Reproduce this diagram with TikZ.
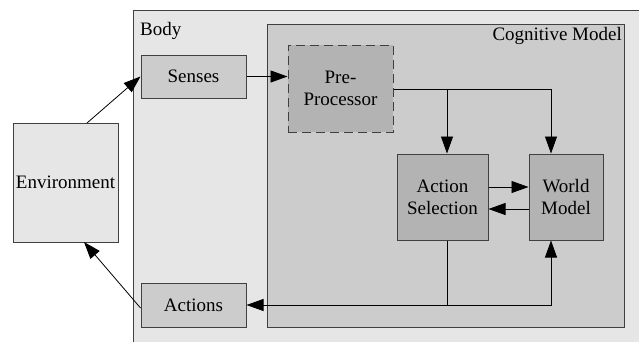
\documentclass[tikz,border=0pt]{standalone}
\usepackage{fontspec}
\setmainfont{Liberation Serif}
\usetikzlibrary{arrows.meta}
\definecolor{bodyfill}{HTML}{E6E6E6}
\definecolor{cogfill}{HTML}{CCCCCC}
\definecolor{darkfill}{HTML}{B3B3B3}
\definecolor{edge}{HTML}{404040}
\tikzset{
  box/.style={draw=edge, line width=1pt, fill=cogfill, inner sep=0pt, align=center,
    font=\rmfamily\fontsize{19}{22}\selectfont},
  conn/.style={draw=black, line width=0.8pt, -{Triangle[length=17pt,width=12pt]}},
  plain/.style={draw=black, line width=0.8pt}
}
\begin{document}
\begin{tikzpicture}[x=1pt,y=-1pt]
\useasboundingbox (0,0) rectangle (639,341);
\clip (0,0) rectangle (639,341);
\fill[white] (0,0) rectangle (639,341);
% body
\node[box, fill=bodyfill, draw=edge, minimum width=520pt, minimum height=340pt, anchor=north west] (body) at (133,10) {};
\node[font=\rmfamily\fontsize{19}{22}\selectfont, anchor=base west, inner sep=0pt] (bodylbl) at (140,35) {Body};
% cognitive model
\node[box, fill=cogfill, minimum width=357pt, minimum height=303pt] (cog) at (445.5,175.5) {};
\node[font=\rmfamily\fontsize{19}{22}\selectfont, anchor=base east, inner sep=0pt] (coglbl) at (622,40) {Cognitive Model};
% boxes
\node[box, fill=bodyfill, minimum width=105pt, minimum height=119pt] (env) at (65.5,182.5) {Environment};
\node[box, minimum width=105pt, minimum height=43pt] (senses) at (193.5,76.5) {Senses};
\node[box, minimum width=105pt, minimum height=44pt] (actions) at (193.5,305) {Actions};
\node[box, fill=darkfill, dashed, dash pattern=on 9pt off 5pt, minimum width=105pt, minimum height=87pt] (pre) at (340.5,88.5) {Pre-\\Processor};
\node[box, fill=darkfill, minimum width=91pt, minimum height=86pt] (as) at (442.5,197) {Action\\Selection};
\node[box, fill=darkfill, minimum width=74pt, minimum height=86pt] (wm) at (566,197) {World\\Model};
% coordinates
\coordinate (envtop) at (87,123);
\coordinate (envbot) at (84,242);
\coordinate (j1) at (447,89);
\coordinate (j2) at (551,89);
\coordinate (j3) at (447,305);
\coordinate (j4) at (551,305);
% connectors
\draw[conn] (envtop) -- (senses.west);
\draw[conn] (actions.west |- 0,308) -- (envbot);
\draw[conn] (senses.east) -- (pre.west |- senses.east);
\draw[plain] (pre.east |- j1) -- (j2);
\draw[conn] (j1) -- (j1 |- as.north);
\draw[conn] (j2) -- (j2 |- wm.north);
\draw[conn] (as.east |- 0,187) -- (wm.west |- 0,187);
\draw[conn] (wm.west |- 0,209) -- (as.east |- 0,209);
\draw[plain] (j3 |- as.south) -- (j3);
\draw[conn] (j3) -- (actions.east |- j3);
\draw[conn] (j3) -- (j4) -- (j4 |- wm.south);
\end{tikzpicture}
\end{document}
